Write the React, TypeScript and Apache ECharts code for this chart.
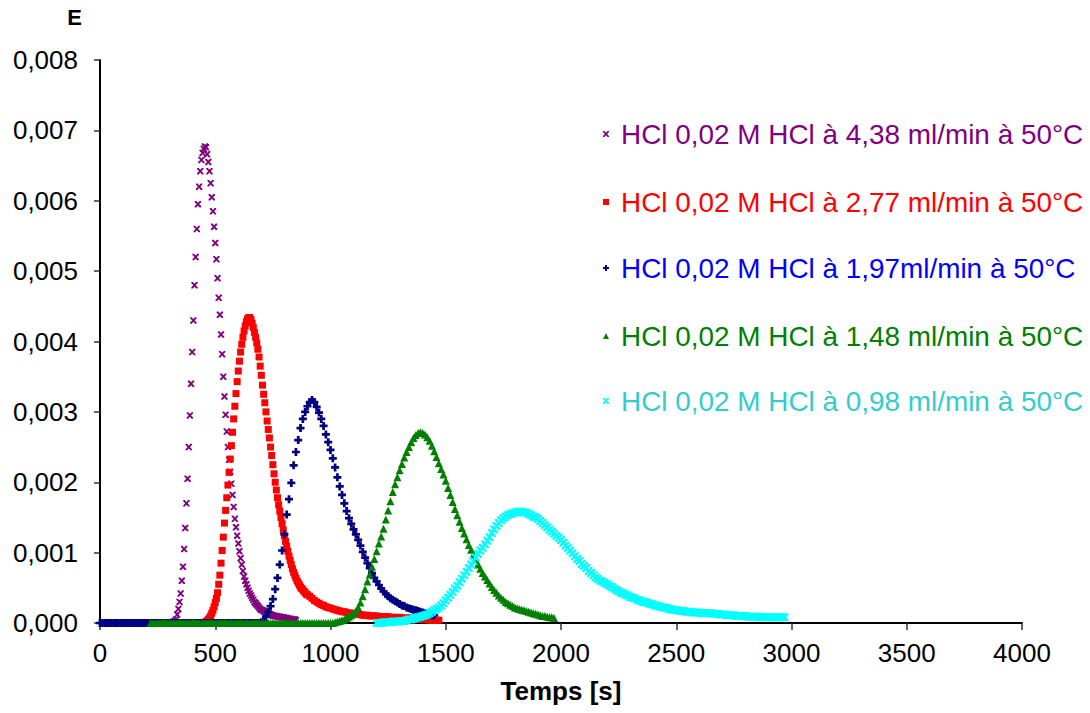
import React, { useEffect, useRef } from "react";
import * as echarts from "echarts";

const FONT = '"Liberation Sans", Arial, sans-serif';

// Series names (legend)
const seriesNames = [
  "HCl 0,02 M HCl à 4,38 ml/min à 50°C",
  "HCl 0,02 M HCl à 2,77 ml/min à 50°C",
  "HCl 0,02 M HCl à 1,97ml/min à 50°C",
  "HCl 0,02 M HCl à 1,48 ml/min à 50°C",
  "HCl 0,02 M HCl à 0,98 ml/min à 50°C",
];
const markerColors = ["#800080", "#FF0000", "#000080", "#008000", "#00FFFF"];
const legendTextColors = ["#800080", "#FF0000", "#0000FF", "#008000", "#33CCCC"];
const legendRowCenters = [134, 202, 268, 336, 401];

// Axis ticks
const xTicks = { min: 0, max: 4000, interval: 500 };
const yTicks = { min: 0, max: 0.008, interval: 0.001 };

// 4,38 ml/min : t from 320 s, every 5 s
const purpleStart = 320;
const purpleStep = 5;
const purpleE = [
  0.00002, 0.00003, 0.00005, 0.00012, 0.0002, 0.0003, 0.00042, 0.0006, 0.0008, 0.00105,
  0.00135, 0.0017, 0.00205, 0.0025, 0.00295, 0.0034, 0.00385, 0.0043, 0.0048, 0.0052,
  0.0056, 0.00595, 0.0062, 0.00642, 0.00658, 0.00668, 0.00674, 0.00677, 0.00676, 0.00666,
  0.00655, 0.00642, 0.00625, 0.00605, 0.00585, 0.00563, 0.0054, 0.00517, 0.0049, 0.00462,
  0.00438, 0.0041, 0.00382, 0.0035, 0.00322, 0.00296, 0.00272, 0.0025, 0.00232, 0.00215,
  0.00198, 0.00182, 0.00165, 0.00148, 0.00136, 0.00124, 0.00113, 0.00102, 0.00092, 0.00083,
  0.00074, 0.00066, 0.0006, 0.00055, 0.0005, 0.00046, 0.00042, 0.00039, 0.00036, 0.00033,
  0.0003, 0.00028, 0.00026, 0.00024, 0.00022, 0.0002, 0.00019, 0.00018, 0.00017, 0.00016,
  0.00015, 0.00014, 0.00013, 0.00012, 0.00012, 0.00011, 0.00011, 0.0001, 0.0001, 0.0001,
  0.00009, 0.00009, 0.00009, 0.00008, 0.00008, 0.00008, 0.00007, 0.00007, 0.00007, 0.00006,
  0.00006, 0.00006, 0.00005, 0.00005, 0.00005, 0.00005, 0.00004,
];

// 2,77 ml/min : t from 460 s every 5 s, then tail from 910 s every 10 s
const redStart = 460;
const redStep = 5;
const redE = [
  0.00002, 0.00003, 0.00005, 0.00007, 0.0001, 0.00014, 0.00018, 0.00023, 0.00029, 0.00035,
  0.00043, 0.00055, 0.00068, 0.00085, 0.00103, 0.00122, 0.00142, 0.0016, 0.00178, 0.00196,
  0.00214, 0.00233, 0.00252, 0.00271, 0.0029, 0.00308, 0.00326, 0.00343, 0.00358, 0.00372,
  0.00385, 0.00396, 0.00406, 0.00415, 0.00422, 0.00428, 0.00432, 0.00434, 0.00434, 0.00431,
  0.00426, 0.0042, 0.00413, 0.00406, 0.00398, 0.00389, 0.00378, 0.00365, 0.00352, 0.00338,
  0.00325, 0.00313, 0.003, 0.00287, 0.00275, 0.00263, 0.0025, 0.00238, 0.00225, 0.00212,
  0.002, 0.00189, 0.00178, 0.00168, 0.00159, 0.0015, 0.00141, 0.00132, 0.00124, 0.00116,
  0.00109, 0.00102, 0.00095, 0.00089, 0.00083, 0.00077, 0.00072, 0.00068, 0.00064, 0.0006,
  0.00057, 0.00054, 0.00051, 0.00049, 0.00047, 0.00045, 0.00043, 0.00041, 0.0004,
];
const redTailStart = 910;
const redTailStep = 10;
const redTailE = [
  0.00038, 0.00035, 0.00032, 0.0003, 0.00028, 0.00026, 0.00025, 0.00023, 0.00022, 0.00021,
  0.0002, 0.00019, 0.00018, 0.00017, 0.00016, 0.00016, 0.00015, 0.00014, 0.00014, 0.00013,
  0.00013, 0.00012, 0.00012, 0.00011, 0.00011, 0.00011, 0.0001, 0.0001, 0.0001, 0.0001,
  0.00009, 0.00009, 0.00009, 0.00009, 0.00009, 0.00008, 0.00008, 0.00008, 0.00008, 0.00008,
  0.00007, 0.00007, 0.00007, 0.00007, 0.00007, 0.00006, 0.00006, 0.00006, 0.00005, 0.00005,
  0.00005, 0.00005, 0.00004, 0.00004, 0.00004, 0.00004, 0.00004,
];

// 1,97 ml/min : t from 0 s every 10 s
const blueStart = 0;
const blueStep = 10;
const blueE = [
  0, 0, 0, 0, 0, 0, 0, 0, 0, 0,
  0, 0, 0, 0, 0, 0, 0, 0, 0, 0,
  0, 0, 0, 0, 0, 0, 0, 0, 0, 0,
  0, 0, 0, 0, 0, 0, 0, 0, 0, 0,
  0, 0, 0, 0, 0, 0, 0, 0, 0, 0,
  0, 0, 0, 0, 0, 0, 0, 0, 0, 0,
  0, 0, 0, 0, 0, 0, 0, 0, 0, 0,
  0.00001, 0.00003, 0.00009, 0.00016, 0.00024, 0.00034, 0.00048, 0.00064, 0.00083, 0.00103,
  0.00126, 0.00154, 0.00176, 0.00199, 0.00224, 0.00243, 0.0026, 0.00277, 0.0029, 0.003,
  0.00308, 0.00314, 0.00317, 0.00314, 0.00307, 0.00299, 0.0029, 0.0028, 0.00268, 0.00257,
  0.00246, 0.00234, 0.00221, 0.00207, 0.00194, 0.00182, 0.0017, 0.00159, 0.00149, 0.00141,
  0.00133, 0.00126, 0.00118, 0.0011, 0.00101, 0.00093, 0.00085, 0.00078, 0.00071, 0.00064,
  0.00059, 0.00054, 0.00049, 0.00045, 0.00041, 0.00038, 0.00035, 0.00033, 0.00031, 0.00029,
  0.00027, 0.00025, 0.00024, 0.00022, 0.00021, 0.0002, 0.00019, 0.00018, 0.00017, 0.00016,
  0.00015, 0.00014, 0.00013, 0.00012, 0.00011, 0.00011,
];

// 1,48 ml/min : t from 220 s every 10 s
const greenStart = 220;
const greenStep = 10;
const greenE = [
  0, 0, 0, 0, 0, 0, 0, 0, 0, 0,
  0, 0, 0, 0, 0, 0, 0, 0, 0, 0,
  0, 0, 0, 0, 0, 0, 0, 0, 0, 0,
  0, 0, 0, 0, 0, 0, 0, 0, 0, 0,
  0, 0, 0, 0, 0, 0, 0, 0, 0, 0,
  0, 0, 0, 0, 0, 0, 0, 0, 0, 0,
  0, 0, 0, 0, 0, 0, 0, 0, 0, 0,
  0, 0, 0, 0, 0, 0, 0, 0, 0, 0,
  0.00001, 0.00002, 0.00003, 0.00004, 0.00005, 0.00007, 0.00009, 0.00011, 0.00014, 0.00017,
  0.00022, 0.00029, 0.00038, 0.00048, 0.00059, 0.00069, 0.0008, 0.00091, 0.00102, 0.00113,
  0.00123, 0.00134, 0.00147, 0.0016, 0.00173, 0.00186, 0.00197, 0.00207, 0.00217, 0.00226,
  0.00235, 0.00243, 0.0025, 0.00257, 0.00263, 0.00267, 0.0027, 0.00271, 0.0027, 0.00268,
  0.00264, 0.00259, 0.00252, 0.00244, 0.00236, 0.00227, 0.00219, 0.00211, 0.00202, 0.00192,
  0.00182, 0.00172, 0.00162, 0.00153, 0.00144, 0.00135, 0.00127, 0.00119, 0.00111, 0.00104,
  0.00097, 0.0009, 0.00083, 0.00077, 0.00071, 0.00066, 0.00061, 0.00056, 0.00051, 0.00047,
  0.00043, 0.00039, 0.00036, 0.00033, 0.0003, 0.00028, 0.00026, 0.00024, 0.00022, 0.00021,
  0.0002, 0.00019, 0.00018, 0.00017, 0.00016, 0.00015, 0.00014, 0.00013, 0.00012, 0.00011,
  0.0001, 0.0001, 0.00009, 0.00008, 0.00008, 0.00007,
];

// 0,98 ml/min : t from 1200 s every 10 s
const cyanStart = 1200;
const cyanStep = 10;
const cyanE = [
  0, 0, 0, 0.00001, 0.00001, 0.00001, 0.00001, 0.00002, 0.00002, 0.00002,
  0.00002, 0.00003, 0.00003, 0.00004, 0.00005, 0.00005, 0.00006, 0.00007, 0.00008, 0.00009,
  0.0001, 0.00011, 0.00012, 0.00014, 0.00016, 0.00018, 0.0002, 0.00022, 0.00025, 0.00028,
  0.00032, 0.00036, 0.0004, 0.00044, 0.00049, 0.00053, 0.00058, 0.00063, 0.00068, 0.00073,
  0.00078, 0.00083, 0.00088, 0.00093, 0.00098, 0.00103, 0.00107, 0.00112, 0.00117, 0.00122,
  0.00128, 0.00133, 0.00138, 0.00142, 0.00146, 0.00149, 0.00151, 0.00153, 0.00155, 0.00156,
  0.00157, 0.00158, 0.00158, 0.00158, 0.00157, 0.00157, 0.00155, 0.00153, 0.00151, 0.0015,
  0.00148, 0.00145, 0.00142, 0.00139, 0.00136, 0.00133, 0.0013, 0.00127, 0.00124, 0.00121,
  0.00118, 0.00114, 0.0011, 0.00107, 0.00103, 0.00099, 0.00095, 0.00091, 0.00088, 0.00084,
  0.00081, 0.00078, 0.00074, 0.00071, 0.00068, 0.00065, 0.00063, 0.0006, 0.00059, 0.00057,
  0.00055, 0.00053, 0.00051, 0.00049, 0.00047, 0.00045, 0.00043, 0.00042, 0.0004, 0.00039,
  0.00037, 0.00036, 0.00035, 0.00033, 0.00032, 0.00031, 0.0003, 0.00029, 0.00028, 0.00027,
  0.00026, 0.00025, 0.00024, 0.00023, 0.00022, 0.00022, 0.00021, 0.0002, 0.00019, 0.00019,
  0.00018, 0.00018, 0.00017, 0.00017, 0.00016, 0.00016, 0.00016, 0.00015, 0.00015, 0.00015,
  0.00015, 0.00014, 0.00014, 0.00014, 0.00014, 0.00014, 0.00013, 0.00013, 0.00013, 0.00012,
  0.00012, 0.00012, 0.00011, 0.00011, 0.00011, 0.00011, 0.0001, 0.0001, 0.0001, 0.0001,
  0.0001, 0.00009, 0.00009, 0.00009, 0.00009, 0.00009, 0.00009, 0.00008, 0.00008, 0.00008,
  0.00008, 0.00008, 0.00008, 0.00008, 0.00008, 0.00008, 0.00008, 0.00008,
];

const seg = (start: number, step: number, vals: number[]) =>
  vals.map((v, i) => [start + i * step, v]);

const X_PATH =
  "path://M0,0L2.4,0L5,2.8L7.6,0L10,0L10,1.8L6.9,5L10,8.2L10,10L7.6,10L5,7.2L2.4,10L0,10L0,8.2L3.1,5L0,1.8Z";
const PLUS_PATH =
  "path://M3.3,0L6.7,0L6.7,3.3L10,3.3L10,6.7L6.7,6.7L6.7,10L3.3,10L3.3,6.7L0,6.7L0,3.3L3.3,3.3Z";

const symbols = [X_PATH, "rect", PLUS_PATH, "triangle", X_PATH];
const symbolSizes = [6.5, 7, 8, 8, 8];

const seriesData = [
  seg(purpleStart, purpleStep, purpleE),
  seg(redStart, redStep, redE).concat(seg(redTailStart, redTailStep, redTailE)),
  seg(blueStart, blueStep, blueE),
  seg(greenStart, greenStep, greenE),
  seg(cyanStart, cyanStep, cyanE),
];

export default function App() {
  const ref = useRef<HTMLDivElement>(null);
  useEffect(() => {
    if (!ref.current) return;
    const chart = echarts.init(ref.current, null, { renderer: "svg" });
    const option: any = {
      animation: false,
      backgroundColor: "#ffffff",
      textStyle: { fontFamily: FONT },
      grid: { left: 100, right: 68, top: 60, bottom: 90, containLabel: false },
      legend: seriesNames.map((n, i) => ({
        data: [n],
        orient: "vertical",
        left: 603,
        top: legendRowCenters[i] - 15,
        padding: 0,
        itemWidth: 6,
        itemHeight: 6,
        selectedMode: false,
        textStyle: {
          color: legendTextColors[i],
          fontSize: 27.9,
          fontFamily: FONT,
          lineHeight: 30,
          padding: [0, 0, 0, 7],
        },
      })),
      xAxis: {
        type: "value",
        min: xTicks.min,
        max: xTicks.max,
        interval: xTicks.interval,
        name: "Temps [s]",
        nameLocation: "middle",
        nameGap: 55,
        nameTextStyle: { fontSize: 26, fontWeight: "bold", color: "#000", fontFamily: FONT },
        axisLine: { show: true, lineStyle: { color: "#000", width: 2 } },
        axisTick: { show: true, inside: false, length: 7, lineStyle: { color: "#333", width: 1.5 } },
        axisLabel: {
          fontSize: 26,
          color: "#000",
          margin: 17,
          fontFamily: FONT,
          formatter: (v: number) => String(v),
        },
        splitLine: { show: false },
      },
      yAxis: {
        type: "value",
        min: yTicks.min,
        max: yTicks.max,
        interval: yTicks.interval,
        name: "E",
        nameLocation: "end",
        nameGap: 32,
        nameTextStyle: {
          fontSize: 22,
          fontWeight: "bold",
          color: "#000",
          fontFamily: FONT,
          padding: [0, 51, 0, 0],
        },
        axisLine: { show: true, lineStyle: { color: "#000", width: 2 } },
        axisTick: { show: true, inside: false, length: 6, lineStyle: { color: "#333", width: 1.5 } },
        axisLabel: {
          fontSize: 26,
          color: "#000",
          margin: 22,
          fontFamily: FONT,
          formatter: (v: number) => v.toFixed(3).replace(".", ","),
        },
        splitLine: { show: false },
      },
      series: seriesNames.map((n, i) => ({
        name: n,
        type: "scatter",
        data: seriesData[i],
        symbol: symbols[i],
        symbolSize: symbolSizes[i],
        itemStyle: { color: markerColors[i], opacity: 1 },
        emphasis: { disabled: true },
      })),
    };
    chart.setOption(option);
    return () => chart.dispose();
  }, []);
  return (
    <div
      ref={ref}
      style={{ position: "absolute", left: 0, top: 0, width: 1090, height: 713, background: "#fff" }}
    />
  );
}
